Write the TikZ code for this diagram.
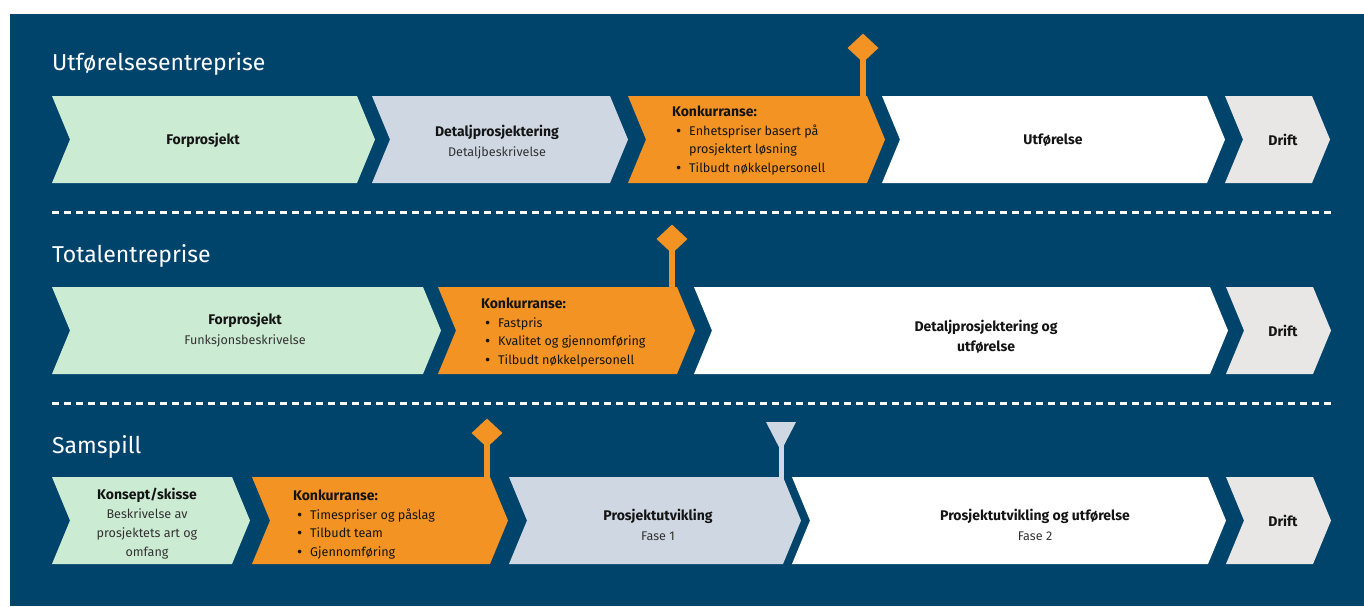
\documentclass[tikz,border=0pt]{standalone}
\usepackage{fontspec}
\setmainfont{Fira Sans}
\usetikzlibrary{shapes.geometric}
\definecolor{bgblue}{RGB}{0,68,108}
\definecolor{cgreen}{RGB}{204,235,211}
\definecolor{cblue}{RGB}{207,216,226}
\definecolor{corange}{RGB}{243,147,36}
\definecolor{cgrey}{RGB}{232,231,229}
\definecolor{txtdark}{RGB}{20,20,20}
\definecolor{txtsub}{RGB}{50,50,50}
\newcommand\chevshape[4]{%
  \fill[#4] (#1,#3) -- (#2,#3) -- ({#2+18},{#3+43.5}) -- (#2,{#3+87}) -- (#1,{#3+87}) -- ({#1+18},{#3+43.5}) -- cycle;}
\newcommand\bitem[1]{\makebox[17pt][l]{\hspace{4pt}\raisebox{-0.8pt}{\fontsize{16}{16}\selectfont\textbullet}}#1}
\newcommand\bcont[1]{\hspace*{17pt}#1}
\newcommand\bt[1]{{\fontsize{14}{20}\selectfont\bfseries #1}}
\begin{document}
\begin{tikzpicture}[x=1pt,y=-1pt,
  titletext/.style={anchor=base west, text=white, inner sep=0, font=\fontsize{23}{27}\selectfont},
  lbl/.style={align=center, inner sep=0, text=txtdark, font=\fontsize{12.6}{20}\selectfont},
  lst/.style={align=left, anchor=north west, inner sep=0, text=txtdark, font=\fontsize{12.6}{18.5}\selectfont},
  dashline/.style={white, line width=3pt, dash pattern=on 7pt off 5pt},
  milestone/.style={diamond, fill=corange, inner sep=0, minimum width=31pt, minimum height=29pt},
  stemline/.style={line width=5.5pt},
]
\useasboundingbox (0,0) rectangle (1364,606);
\fill[bgblue] (10,14) rectangle (1364,606);

% titles
\node[titletext] (h1) at (52,70) {Utførelsesentreprise};
\node[titletext] (h2) at (52,262) {Totalentreprise};
\node[titletext] (h3) at (52,453) {Samspill};

% separators
\coordinate (s1a) at (52,212); \coordinate (s1b) at (1332,212);
\coordinate (s2a) at (52,403); \coordinate (s2b) at (1332,403);
\draw[dashline] (s1a) -- (s1b);
\draw[dashline] (s2a) -- (s2b);

% row 1
\chevshape{52}{357}{96}{cgreen}
\chevshape{372}{610}{96}{cblue}
\chevshape{628}{867}{96}{corange}
\chevshape{882}{1207}{96}{white}
\chevshape{1225}{1312}{96}{cgrey}

% row 2
\chevshape{52}{423}{287}{cgreen}
\chevshape{438}{677}{287}{corange}
\chevshape{694}{1210}{287}{white}
\chevshape{1226}{1313}{287}{cgrey}

% row 3
\chevshape{52}{232}{477}{cgreen}
\chevshape{252}{490}{477}{corange}
\chevshape{509}{783}{477}{cblue}
\chevshape{792}{1208}{477}{white}
\chevshape{1226}{1313}{477}{cgrey}

% milestones
\node[milestone] (m1) at (863,48) {};
\coordinate (m1e) at (863,98);
\draw[corange, stemline] (m1.center) -- (m1e);
\node[milestone] (m2) at (672,239) {};
\coordinate (m2e) at (672,289);
\draw[corange, stemline] (m2.center) -- (m2e);
\node[milestone] (m3) at (487,433) {};
\coordinate (m3e) at (487,479);
\draw[corange, stemline] (m3.center) -- (m3e);
% funnel marker
\fill[cblue] (766,422) -- (796,422) -- (781,451) -- cycle;
\coordinate (f1) at (781,445); \coordinate (f1e) at (781,479);
\draw[cblue, line width=5pt] (f1) -- (f1e);

% row 1 texts
\node[lbl] (r1a) at (203,140) {\bt{Forprosjekt}};
\node[lbl] (r1b) at (497,142) {\bt{Detaljprosjektering}\\{\color{txtsub}Detaljbeskrivelse}};
\node[lst] (r1c) at (672,106) {\bt{Konkurranse:}\\\bitem{Enhetspriser basert på}\\\bcont{prosjektert løsning}\\\bitem{Tilbudt nøkkelpersonell}};
\node[lbl] (r1d) at (1053,140) {\bt{Utførelse}};
\node[lbl] (r1e) at (1283,140) {\bt{Drift}};

% row 2 texts
\node[lbl] (r2a) at (245,330) {\bt{Forprosjekt}\\{\color{txtsub}Funksjonsbeskrivelse}};
\node[lst] (r2b) at (481,298) {\bt{Konkurranse:}\\\bitem{Fastpris}\\\bitem{Kvalitet og gjennomføring}\\\bitem{Tilbudt nøkkelpersonell}};
\node[lbl] (r2c) at (986,337) {\bt{Detaljprosjektering og}\\\bt{utførelse}};
\node[lbl] (r2d) at (1283,331) {\bt{Drift}};

% row 3 texts
\node[lbl, font=\fontsize{12.6}{19}\selectfont] (r3a) at (147,524) {\bt{Konsept/skisse}\\{\color{txtsub}Beskrivelse av}\\{\color{txtsub}prosjektets art og}\\{\color{txtsub}omfang}};
\node[lst] (r3b) at (293,490) {\bt{Konkurranse:}\\\bitem{Timespriser og påslag}\\\bitem{Tilbudt team}\\\bitem{Gjennomføring}};
\node[lbl] (r3c) at (658,525) {\bt{Prosjektutvikling}\\{\color{txtsub}Fase 1}};
\node[lbl] (r3d) at (1035,525) {\bt{Prosjektutvikling og utførelse}\\{\color{txtsub}Fase 2}};
\node[lbl] (r3e) at (1283,521) {\bt{Drift}};
\end{tikzpicture}
\end{document}
